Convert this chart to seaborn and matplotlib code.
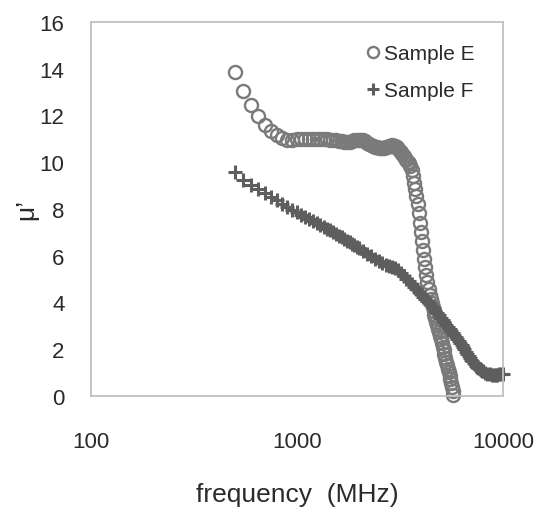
import pandas as pd
import matplotlib
matplotlib.use("Agg")
import matplotlib.pyplot as plt
import seaborn as sns

# Sample E: frequency (MHz) and mu'
freq_e = [500, 550, 600, 650, 700, 750, 800, 850, 900, 950,
          1000, 1050, 1100, 1150, 1200, 1250, 1300, 1350, 1400, 1450,
          1500, 1550, 1600, 1650, 1700, 1750, 1800, 1850, 1900, 1950,
          2000, 2050, 2100, 2150, 2200, 2250, 2300, 2350, 2400, 2450,
          2500, 2550, 2600, 2650, 2700, 2750, 2800, 2850, 2900, 2950,
          3000, 3050, 3100, 3150, 3200, 3250, 3300, 3350, 3400, 3450,
          3500, 3550, 3600, 3650, 3700, 3750, 3800, 3850, 3900, 3950,
          4000, 4050, 4100, 4150, 4200, 4250, 4300, 4350, 4400, 4450,
          4500, 4550, 4600, 4650, 4700, 4750, 4800, 4850, 4900, 4950,
          5000, 5050, 5100, 5150, 5200, 5250, 5300, 5350, 5400, 5450,
          5500, 5550, 5600, 5650, 5700, 5750]
mu_e = [13.87, 13.05, 12.45, 11.98, 11.60, 11.35, 11.15, 11.03, 10.96, 10.95,
        10.98, 11.00, 11.00, 10.99, 11.00, 11.01, 11.00, 10.99, 10.98, 10.97,
        10.95, 10.93, 10.91, 10.89, 10.88, 10.87, 10.88, 10.90, 10.93, 10.95,
        10.96, 10.96, 10.93, 10.89, 10.84, 10.79, 10.74, 10.70, 10.66, 10.63,
        10.61, 10.60, 10.60, 10.61, 10.63, 10.66, 10.69, 10.71, 10.72, 10.71,
        10.68, 10.63, 10.57, 10.50, 10.42, 10.34, 10.26, 10.18, 10.10, 10.02,
        9.95, 9.85, 9.65, 9.40, 9.12, 8.84, 8.55, 8.20, 7.82, 7.42,
        7.02, 6.62, 6.24, 5.87, 5.52, 5.18, 4.86, 4.58, 4.34, 4.14,
        3.96, 3.80, 3.64, 3.48, 3.33, 3.18, 3.03, 2.88, 2.73, 2.58,
        2.43, 2.27, 2.11, 1.95, 1.79, 1.63, 1.47, 1.32, 1.17, 1.02,
        0.87, 0.72, 0.57, 0.40, 0.22, 0.05]

# Sample F: frequency (MHz) and mu'
freq_f = [500, 550, 600, 650, 700, 750, 800, 850, 900, 950,
          1000, 1050, 1100, 1150, 1200, 1250, 1300, 1350, 1400, 1450,
          1500, 1550, 1600, 1650, 1700, 1750, 1800, 1850, 1900, 1950,
          2000, 2100, 2200, 2300, 2400, 2500, 2600, 2700, 2800, 2900,
          3000, 3100, 3200, 3300, 3400, 3500, 3600, 3700, 3800, 3900,
          4000, 4100, 4200, 4300, 4400, 4500, 4600, 4700, 4800, 4900,
          5000, 5100, 5200, 5300, 5400, 5500, 5600, 5700, 5800, 5900,
          6000, 6100, 6200, 6300, 6400, 6500, 6600, 6700, 6800, 6900,
          7000, 7100, 7200, 7300, 7400, 7500, 7600, 7700, 7800, 7900,
          8000, 8200, 8400, 8600, 8800, 9000, 9200, 9400, 9600, 9800,
          10000]
mu_f = [9.57, 9.22, 9.03, 8.85, 8.68, 8.52, 8.37, 8.23, 8.10, 7.97,
        7.85, 7.75, 7.66, 7.57, 7.48, 7.40, 7.32, 7.24, 7.16, 7.08,
        7.00, 6.93, 6.86, 6.79, 6.72, 6.65, 6.58, 6.51, 6.45, 6.39,
        6.33, 6.21, 6.09, 5.98, 5.88, 5.79, 5.70, 5.62, 5.56, 5.52,
        5.47, 5.39, 5.28, 5.15, 5.02, 4.90, 4.78, 4.67, 4.56, 4.45,
        4.35, 4.25, 4.15, 4.05, 3.95, 3.85, 3.75, 3.65, 3.55, 3.45,
        3.35, 3.25, 3.15, 3.05, 2.95, 2.85, 2.77, 2.68, 2.60, 2.52,
        2.44, 2.35, 2.26, 2.17, 2.08, 1.99, 1.90, 1.81, 1.72, 1.64,
        1.56, 1.49, 1.42, 1.36, 1.30, 1.25, 1.20, 1.16, 1.12, 1.08,
        1.05, 1.00, 0.96, 0.93, 0.91, 0.90, 0.90, 0.91, 0.92, 0.93,
        0.95]

y_ticks = [0, 2, 4, 6, 8, 10, 12, 14, 16]
x_ticks = [100, 1000, 10000]

sns.set_style("white")
plt.rcParams['font.family'] = ['Liberation Sans', 'DejaVu Sans']

df_e = pd.DataFrame({'freq': freq_e, 'mu': mu_e})
df_f = pd.DataFrame({'freq': freq_f, 'mu': mu_f})

fig = plt.figure(figsize=(5.34, 5.10), dpi=100)
ax = fig.add_axes([0.170, 0.2216, 0.772, 0.7334])

sns.lineplot(data=df_e, x='freq', y='mu', ax=ax, linestyle='none', marker='o',
             markersize=9.4, markerfacecolor='none', markeredgecolor='#7a7a7a',
             markeredgewidth=1.7, clip_on=False, label='Sample E')
sns.lineplot(data=df_f, x='freq', y='mu', ax=ax, linestyle='none', marker='+',
             markersize=10, markeredgecolor='#5e5e5e', color='#5e5e5e',
             markeredgewidth=2.2, clip_on=False, label='Sample F')

ax.set_xscale('log')
ax.set_xlim(100, 10000)
ax.set_ylim(0, 16)
ax.set_xticks(x_ticks)
ax.set_xticklabels([str(t) for t in x_ticks])
ax.minorticks_off()
ax.set_yticks(y_ticks)

for s in ax.spines.values():
    s.set_color('#c0c0c0')
    s.set_linewidth(1.3)
ax.tick_params(axis='both', direction='in', length=6, width=1.1, color='#c0c0c0',
               labelsize=16, labelcolor='#2a2a2a')
ax.tick_params(axis='x', pad=25)
ax.tick_params(axis='y', pad=19)

ax.set_xlabel('frequency  (MHz)', fontsize=19, color='#2a2a2a', labelpad=22)
ax.set_ylabel('μ’', fontsize=19, color='#2a2a2a', labelpad=1)

ax.legend(loc='upper left', bbox_to_anchor=(0.625, 0.99), frameon=False,
          fontsize=15, handlelength=0.6, handletextpad=0.2, labelspacing=0.85,
          labelcolor='#2a2a2a', markerscale=0.85)

fig.savefig('out.png', dpi=100)
